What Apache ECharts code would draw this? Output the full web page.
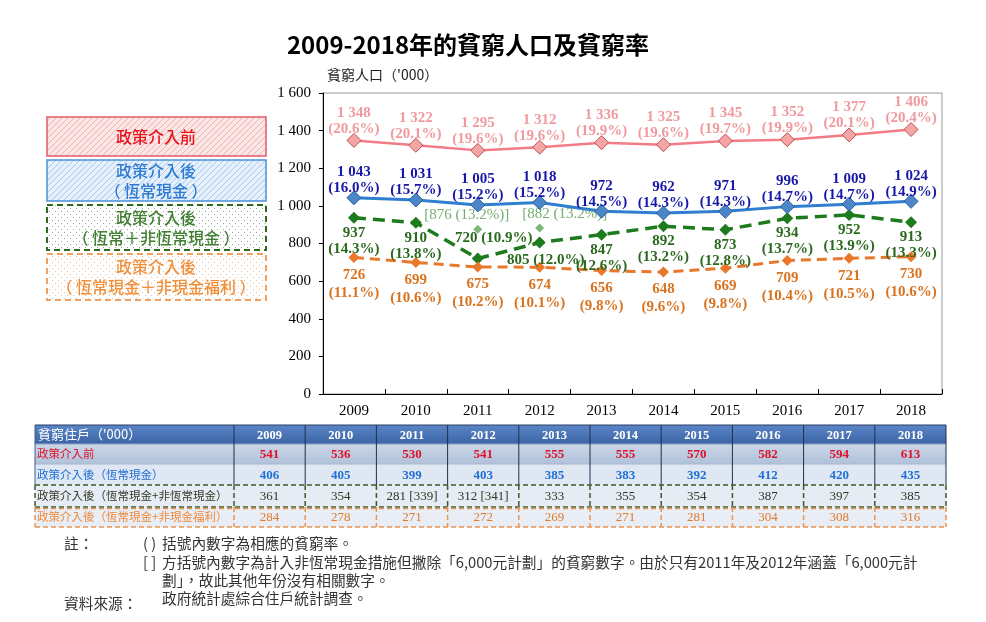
<!DOCTYPE html>
<html><head><meta charset="utf-8">
<script src="https://cdn.jsdelivr.net/npm/echarts/dist/echarts.min.js"></script>
<style>html,body{margin:0;padding:0;background:#fff}#c{width:986px;height:622px}</style>
</head><body><div id="c"></div>
<script>
// ---- data ----
const years = ['2009','2010','2011','2012','2013','2014','2015','2016','2017','2018'];
const popPre      = [1348,1322,1295,1312,1336,1325,1345,1352,1377,1406];
const ratePre     = [20.6,20.1,19.6,19.6,19.9,19.6,19.7,19.9,20.1,20.4];
const popRecur    = [1043,1031,1005,1018,972,962,971,996,1009,1024];
const rateRecur   = [16.0,15.7,15.2,15.2,14.5,14.3,14.3,14.7,14.7,14.9];
const popNonRec   = [937,910,720,805,847,892,873,934,952,913];
const rateNonRec  = [14.3,13.8,10.9,12.0,12.6,13.2,12.8,13.7,13.9,13.3];
const popExcl6000 = [null,null,876,882,null,null,null,null,null,null];
const rateExcl6000= [null,null,13.2,13.2,null,null,null,null,null,null];
const popInKind   = [726,699,675,674,656,648,669,709,721,730];
const rateInKind  = [11.1,10.6,10.2,10.1,9.8,9.6,9.8,10.4,10.5,10.6];
const yTicks = [0,200,400,600,800,1000,1200,1400,1600];

const hhHeader = "貧窮住戶（'000）";
const hhRowLabels = ['政策介入前','政策介入後（恆常現金）','政策介入後（恆常現金+非恆常現金）','政策介入後（恆常現金+非現金福利）'];
const hhPre      = [541,536,530,541,555,555,570,582,594,613];
const hhRecur    = [406,405,399,403,385,383,392,412,420,435];
const hhNonRec   = [361,354,281,312,333,355,354,387,397,385];
const hhExcl6000 = [null,null,339,341,null,null,null,null,null,null];
const hhInKind   = [284,278,271,272,269,271,281,304,308,316];

const legendLabels = [['政策介入前'],['政策介入後','（ 恆常現金 ）'],['政策介入後','（ 恆常＋非恆常現金 ）'],['政策介入後','（ 恆常現金＋非現金福利 ）']];
const notes = ['註：','( )','括號內數字為相應的貧窮率。','[ ]','方括號內數字為計入非恆常現金措施但撇除「6,000元計劃」的貧窮數字。由於只有2011年及2012年涵蓋「6,000元計','劃」，故此其他年份沒有相關數字。','資料來源：','政府統計處綜合住戶統計調查。'];

// ---- helpers ----
const SERIF = '"Liberation Serif","Times New Roman",serif';
const CJK = '"Noto Sans CJK TC","Noto Sans CJK SC",sans-serif';
function fmt(v){ if(v>=1000){ return Math.floor(v/1000)+' '+String(v%1000).padStart(3,'0'); } return String(v); }

function pattern(kind, bg, fg){
  const c = document.createElement('canvas'); c.width = 6; c.height = 6;
  const g = c.getContext('2d');
  g.fillStyle = bg; g.fillRect(0,0,6,6);
  if(kind==='hatch'){
    g.strokeStyle = fg; g.lineWidth = 1;
    g.beginPath(); g.moveTo(0,6); g.lineTo(6,0); g.moveTo(-3,3); g.lineTo(3,-3); g.moveTo(3,9); g.lineTo(9,3); g.stroke();
  } else {
    g.fillStyle = fg; g.fillRect(1,1,1,1); g.fillRect(4,4,1,1);
  }
  return {image: c, repeat: 'repeat'};
}

const G = [];
function rect(x,y,w,h,fill,stroke,dash,lw){ G.push({type:'rect', silent:true, shape:{x:x,y:y,width:w,height:h}, style:{fill:fill, stroke:stroke||null, lineWidth: stroke?(lw||1):0, lineDash: dash||null}}); }
function line(x1,y1,x2,y2,stroke,w,dash){ G.push({type:'line', silent:true, shape:{x1:x1,y1:y1,x2:x2,y2:y2}, style:{stroke:stroke, lineWidth:w||1, lineDash:dash||null}}); }
function text(x,y,t,font,fill,align){ G.push({type:'text', silent:true, x:x, y:y, style:{text:t, font:font, fill:fill, align:align||'left', textAlign:align||'left', verticalAlign:'middle', textVerticalAlign:'middle'}}); }

// title and axis name
text(468, 45, '2009-2018年的貧窮人口及貧窮率', 'bold 24px '+CJK, '#000', 'center');
text(327, 75, "貧窮人口（'000）", '14px '+CJK, '#222', 'left');

// legend boxes
const lb = [
  {y:117,h:39,stroke:'#e35a66',dash:null,fill:pattern('hatch','#fbe6e6','#f0b4b4'),color:'#e8141e'},
  {y:160,h:41,stroke:'#4a90d9',dash:null,fill:pattern('hatch','#e6f0fa','#a9cbee'),color:'#2e7bd6'},
  {y:205,h:45,stroke:'#2e6b1e',dash:[6,4],fill:pattern('dot','#ffffff','#9aa89a'),color:'#3f7f2f'},
  {y:254,h:46,stroke:'#f0a060',dash:[6,4],fill:pattern('dot','#ffffff','#e8c09a'),color:'#f0903a'}
];
lb.forEach(function(b,i){
  rect(47,b.y,219,b.h,b.fill,b.stroke,b.dash,b.dash?2:1.5);
  const ls = legendLabels[i];
  if(ls.length===1){ text(156,b.y+b.h/2,ls[0],'500 16px '+CJK,b.color,'center'); }
  else { text(156,b.y+b.h/2-10,ls[0],'500 16px '+CJK,b.color,'center'); text(156,b.y+b.h/2+10,ls[1],'500 16px '+CJK,b.color,'center'); }
});

// table
const tx0 = 35, tc0 = 234, cw = 71.2, tEnd = tc0 + cw*10;
const ry = [425,444,464,485,507,527];
rect(tx0, ry[0], tEnd-tx0, ry[1]-ry[0], {type:'linear',x:0,y:0,x2:0,y2:1,colorStops:[{offset:0,color:'#5a86c6'},{offset:1,color:'#3c64a6'}]});
rect(tx0, ry[1], tEnd-tx0, ry[2]-ry[1], {type:'linear',x:0,y:0,x2:0,y2:1,colorStops:[{offset:0,color:'#cbd7e8'},{offset:1,color:'#b0c1d9'}]});
rect(tx0, ry[2], tEnd-tx0, ry[3]-ry[2], '#dfe7f2');
rect(tx0, ry[3], tEnd-tx0, ry[4]-ry[3], '#e6ecf4');
rect(tx0, ry[4], tEnd-tx0, ry[5]-ry[4], '#e9eef6');
// borders
line(tx0, ry[0], tEnd, ry[0], '#2a3d66', 1);
line(tx0, ry[1], tEnd, ry[1], '#8fa3c4', 1);
line(tx0, ry[2], tEnd, ry[2], '#a8b8d0', 1);
for(let k=0;k<=10;k++){
  const x = tc0 + cw*k;
  line(x, ry[0], x, ry[3], '#1f2f50', 1);
}
line(tx0, ry[0], tx0, ry[3], '#3c5a90', 1);
line(tx0, ry[3], tEnd, ry[3], '#3f5a2e', 1.5, [5,3]);
line(tx0, ry[4], tEnd, ry[4], '#3f5a2e', 1.5, [5,3]);
line(tx0, ry[4]+1.5, tEnd, ry[4]+1.5, '#e89550', 1.5, [5,3]);
line(tx0, ry[5], tEnd, ry[5], '#e89550', 1.5, [5,3]);
for(let k=0;k<=10;k++){
  const x = tc0 + cw*k;
  line(x, ry[3], x, ry[4], '#3f5a2e', 1.5, [5,3]);
  line(x, ry[4], x, ry[5], '#e89550', 1.5, [5,3]);
}
line(tx0, ry[3], tx0, ry[4], '#3f5a2e', 1.5, [5,3]);
line(tx0, ry[4], tx0, ry[5], '#e89550', 1.5, [5,3]);

text(38, (ry[0]+ry[1])/2, hhHeader, '13px '+CJK, '#ffffff', 'left');
const rowColors = ['#e0102a','#1f6fd6','#3a3a2a','#f08a3a'];
const rowNumColors = ['#e0102a','#1f6fd6','#333322','#e07b28'];
const rowVals = [hhPre, hhRecur, hhNonRec, hhInKind];
hhRowLabels.forEach(function(l,i){ text(37, (ry[i+1]+ry[i+2])/2, l, '11.5px '+CJK, rowColors[i], 'left'); });
years.forEach(function(y,j){
  const cx = tc0 + cw*(j+0.5);
  text(cx, (ry[0]+ry[1])/2+1, y, 'bold 12.5px '+SERIF, '#ffffff', 'center');
  rowVals.forEach(function(vals,i){
    let s = String(vals[j]);
    if(i===2 && hhExcl6000[j]!=null) s += ' ['+hhExcl6000[j]+']';
    text(cx, (ry[i+1]+ry[i+2])/2+1, s, (i<2?'bold ':'')+'13px '+SERIF, rowNumColors[i], 'center');
  });
});

// notes
const nf = '14.7px '+CJK, nc = '#333';
text(64, 543, notes[0], nf, nc); text(143, 543, notes[1], nf, nc); text(162, 543, notes[2], nf, nc);
text(143, 562, notes[3], nf, nc); text(162, 562, notes[4], nf, nc); text(162, 580, notes[5], nf, nc);
text(64, 603, notes[6], nf, nc); text(162, 598, notes[7], nf, nc);

// ---- series ----
function twoLine(pop, rate){ return function(p){ return fmt(pop[p.dataIndex]) + '\n(' + rate[p.dataIndex].toFixed(1) + '%)'; }; }
function labelCfg(color, pos, dist, pop, rate, lh){
  return {show:true, position:pos, distance:dist, color:color, fontFamily:SERIF, fontWeight:'bold', fontSize:15, lineHeight:lh||16, formatter: twoLine(pop, rate)};
}
const greenData = popNonRec.map(function(v,i){
  if(i===2) return {value:v, label:{position:'top', distance:6, offset:[16,0], formatter: fmt(v)+' ('+rateNonRec[i].toFixed(1)+'%)'}};
  if(i===3) return {value:v, label:{position:'bottom', distance:4, offset:[6,0], formatter: fmt(v)+' ('+rateNonRec[i].toFixed(1)+'%)'}};
  return v;
});
const exclData = popExcl6000.map(function(v,i){
  if(v==null) return null;
  return {value:v, label:{offset: i===2?[-11,0]:[25,0]}};
});

const option = {
  animation:false,
  grid:{left:323, right:44, top:93, bottom:228, show:true, borderColor:'#999', borderWidth:1, backgroundColor:'transparent'},
  xAxis:{type:'category', data:years, boundaryGap:true,
    axisLine:{lineStyle:{color:'#000', width:1}},
    axisTick:{show:true, inside:true, length:5, lineStyle:{color:'#000'}},
    axisLabel:{color:'#000', fontFamily:SERIF, fontSize:15, margin:10}},
  yAxis:{type:'value', min:yTicks[0], max:yTicks[yTicks.length-1], interval:200,
    axisLine:{show:true, lineStyle:{color:'#000'}},
    axisTick:{show:true, length:4, lineStyle:{color:'#000'}},
    splitLine:{show:false},
    axisLabel:{color:'#000', fontFamily:SERIF, fontSize:15, margin:12, formatter:function(v){return fmt(v);}}},
  graphic: G,
  series:[
    {name:'政策介入前', type:'line', data:popPre, symbol:'diamond', symbolSize:14,
      lineStyle:{color:'#f27c85', width:2.5}, itemStyle:{color:'#f6a5a6', borderColor:'#b85050', borderWidth:1},
      label: labelCfg('#f09a9e','top',-4,popPre,ratePre), z:3},
    {name:'政策介入後（恆常現金）', type:'line', data:popRecur, symbol:'diamond', symbolSize:14,
      lineStyle:{color:'#2f7ed0', width:3}, itemStyle:{color:'#4a86c8', borderColor:'#2c5f99', borderWidth:1},
      label: labelCfg('#1818a8','top',-6,popRecur,rateRecur), z:4},
    {name:'政策介入後（恆常+非恆常現金）', type:'line', data:greenData, symbol:'diamond', symbolSize:12,
      lineStyle:{color:'#1d7a1d', width:3.5, type:[12,7]}, itemStyle:{color:'#1d7a1d'},
      label: labelCfg('#2b6a1e','bottom',1,popNonRec,rateNonRec,16), z:3},
    {name:'撇除6,000元計劃', type:'scatter', data:exclData, symbol:'diamond', symbolSize:9,
      itemStyle:{color:'#5aa55a'},
      label:{show:true, position:'top', distance:2, color:'#4f9a4f', fontFamily:SERIF, fontSize:15,
        formatter:function(p){ return '['+fmt(popExcl6000[p.dataIndex])+' ('+rateExcl6000[p.dataIndex].toFixed(1)+'%)]'; }}, z:2},
    {name:'政策介入後（恆常現金+非現金福利）', type:'line', data:popInKind, symbol:'diamond', symbolSize:11,
      lineStyle:{color:'#e9782c', width:3, type:[10,6]}, itemStyle:{color:'#e9782c'},
      label: labelCfg('#d9731f','bottom',3,popInKind,rateInKind,18), z:3}
  ]
};
const chart = echarts.init(document.getElementById('c'), null, {renderer:'canvas'});
chart.setOption(option);
</script>
</body></html>
